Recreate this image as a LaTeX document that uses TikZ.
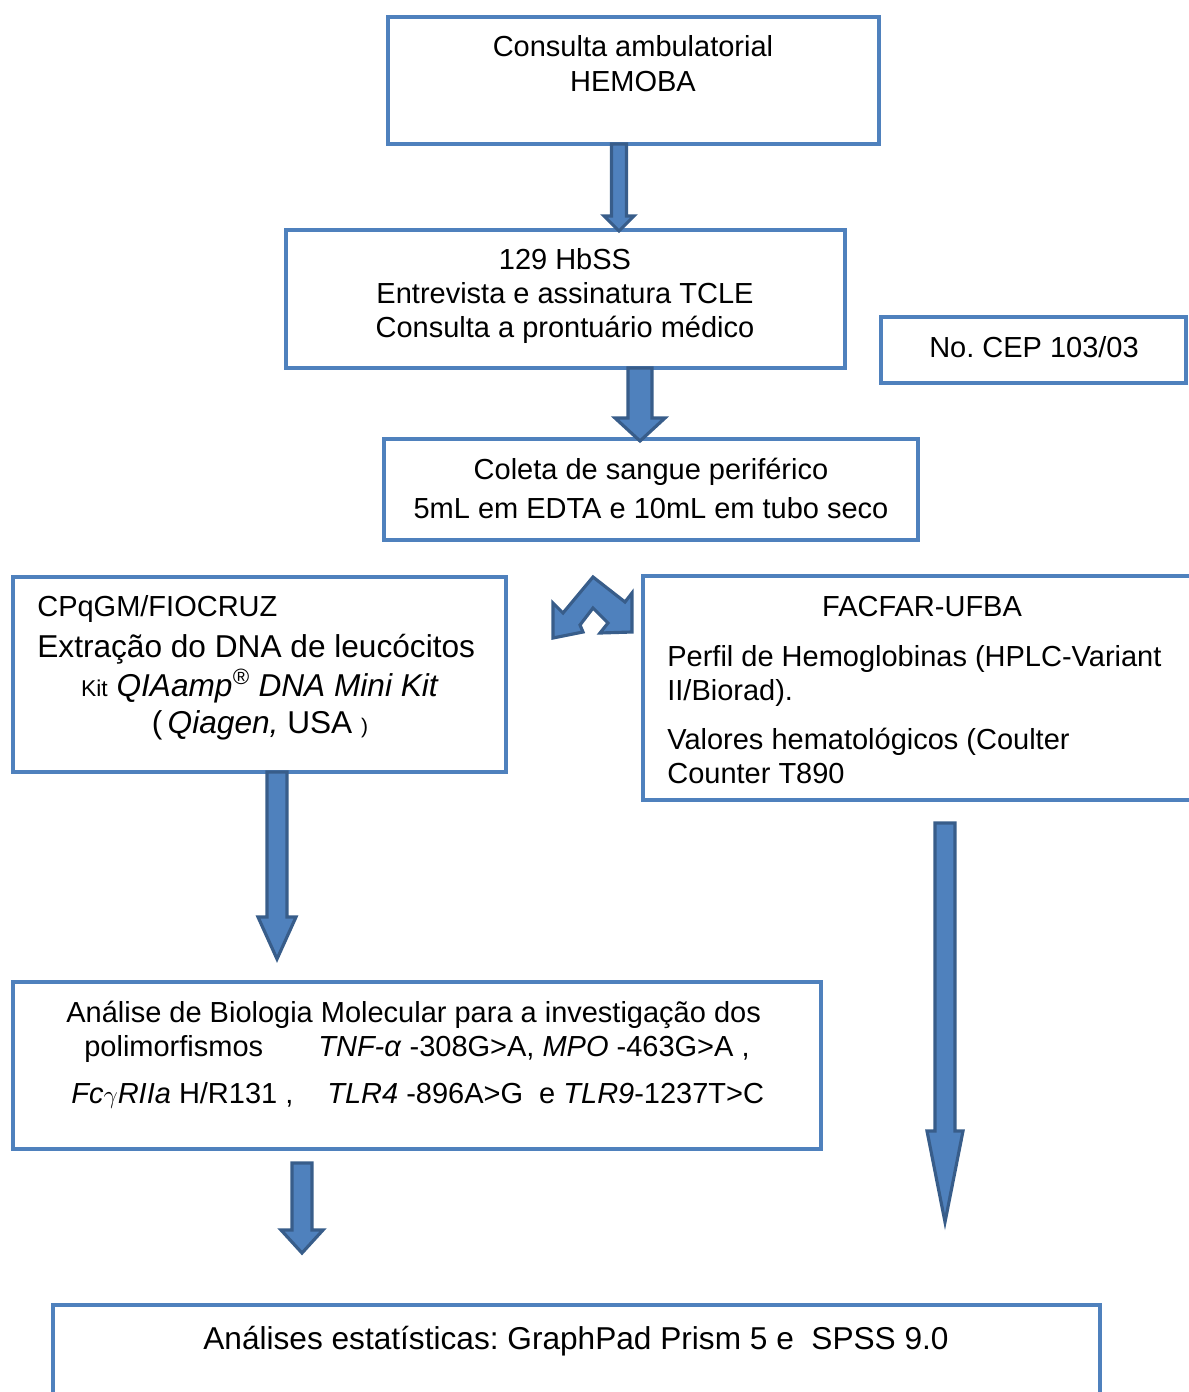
\documentclass[tikz,border=0pt]{standalone}
\usepackage{fontspec}
\setmainfont{Liberation Sans}
\usetikzlibrary{fit}
\frenchspacing

\definecolor{boxblue}{HTML}{4F81BD}
\definecolor{arrowedge}{HTML}{385D8A}

\tikzset{
  box/.style={draw=boxblue, line width=2pt, inner sep=0pt},
  blockarr/.style={fill=boxblue, draw=arrowedge, line width=1.8pt, line join=miter},
  txt/.style={inner sep=0pt, anchor=base, font=\fontsize{16.5}{19.8}\selectfont},
  bigtxt/.style={inner sep=0pt, anchor=base, font=\fontsize{18}{21.6}\selectfont},
}

% block arrow: x, top, head start, tip, half shaft, half head
\newcommand{\blockarrow}[6]{%
  \draw[blockarr] ({#1-#5},#2) -- ({#1+#5},#2) -- ({#1+#5},#3) -- ({#1+#6},#3)
    -- (#1,#4) -- ({#1-#6},#3) -- ({#1-#5},#3) -- cycle;}

\begin{document}
\begin{tikzpicture}[x=0.02cm, y=-0.02cm]
    \clip (0,0) rectangle (1189,1392);

    % boxes
    \node[box, fit={(388,17) (879,144)}] (hemoba) {};
    \node[box, fit={(286,230) (845,368)}] (hbss) {};
    \node[box, fit={(881,317) (1186,383)}] (cep) {};
    \node[box, fit={(384,439) (918,540)}] (coleta) {};
    \node[box, fit={(13,577) (506,772)}] (fiocruz) {};
    \node[box, fit={(643,576) (1230,800)}] (facfar) {};
    \node[box, fit={(13,982) (821,1149)}] (biomol) {};
    \node[box, fit={(53,1305) (1100,1430)}] (stats) {};

    % texts
    \node[txt] (t1a) at (633,57) {Consulta ambulatorial};
    \node[txt] (t1b) at (633,92) {HEMOBA};

    \node[txt] (t2a) at (565,269) {129 HbSS};
    \node[txt] (t2b) at (565,303) {Entrevista e assinatura TCLE};
    \node[txt] (t2c) at (565,337) {Consulta a prontuário médico};

    \node[txt] (tcep) at (1034,357) {No. CEP 103/03};

    \node[txt] (t3a) at (651,479) {Coleta de sangue periférico};
    \node[txt] (t3b) at (651,518) {5mL em EDTA e 10mL em tubo seco};

    \node[txt, anchor=base west] (t4a) at (37,616) {CPqGM/FIOCRUZ};
    \node[bigtxt, anchor=base west] (t4b) at (37,657) {Extração do DNA de leucócitos};
    \node[bigtxt] (t4c) at (260,696) {{\fontsize{13}{13}\selectfont Kit} \textit{QIAamp\textsuperscript{\textregistered} DNA Mini Kit}};
    \node[bigtxt] (t4d) at (260,733) {(\,\textit{Qiagen,} USA {\fontsize{12}{12}\selectfont )}};

    \node[txt] (t5a) at (922,616) {FACFAR-UFBA};
    \node[txt, anchor=base west] (t5b) at (667,666) {Perfil de Hemoglobinas (HPLC-Variant};
    \node[txt, anchor=base west] (t5c) at (667,700) {II/Biorad).};
    \node[txt, anchor=base west] (t5d) at (667,749) {Valores hematológicos (Coulter};
    \node[txt, anchor=base west] (t5e) at (667,783) {Counter T890};

    \node[txt, anchor=base west] (t6a) at (66,1022) {Análise de Biologia Molecular para a investigação dos};
    \node[txt, anchor=base west] (t6b) at (84,1056) {polimorfismos};
    \node[txt, anchor=base west] (t6c) at (318,1056) {\textit{TNF-α} -308G>A, \textit{MPO} -463G>A ,};
    \node[txt, anchor=base west] (t6d) at (71,1103) {\textit{Fc}{\fontsize{14}{14}\selectfont$\gamma$}\textit{RIIa} H/R131 ,};
    \node[txt, anchor=base west] (t6e) at (327,1103) {\textit{TLR4} -896A>G\ \ e \textit{TLR9}-1237T>C};

    \node[bigtxt] (t7) at (576,1349) {Análises estatísticas: GraphPad Prism 5 e\ \ SPSS 9.0};

    % arrows
    \blockarrow{619}{144}{216}{231}{7.5}{15}
    \blockarrow{640}{368}{418}{441}{12}{25}
    \blockarrow{277}{772}{917}{959}{10}{19}
    \blockarrow{945}{823}{1131}{1222}{10}{18}
    \blockarrow{302}{1163}{1230}{1253}{10}{21}

    % split arrow
    \draw[blockarr] (593,577) -- (625,602) -- (632,593) -- (632,632) -- (600,633)
      -- (608,623) -- (593,608) -- (580,625) -- (583,632) -- (553,638)
      -- (553,603) -- (563,613) -- cycle;
\end{tikzpicture}
\end{document}
